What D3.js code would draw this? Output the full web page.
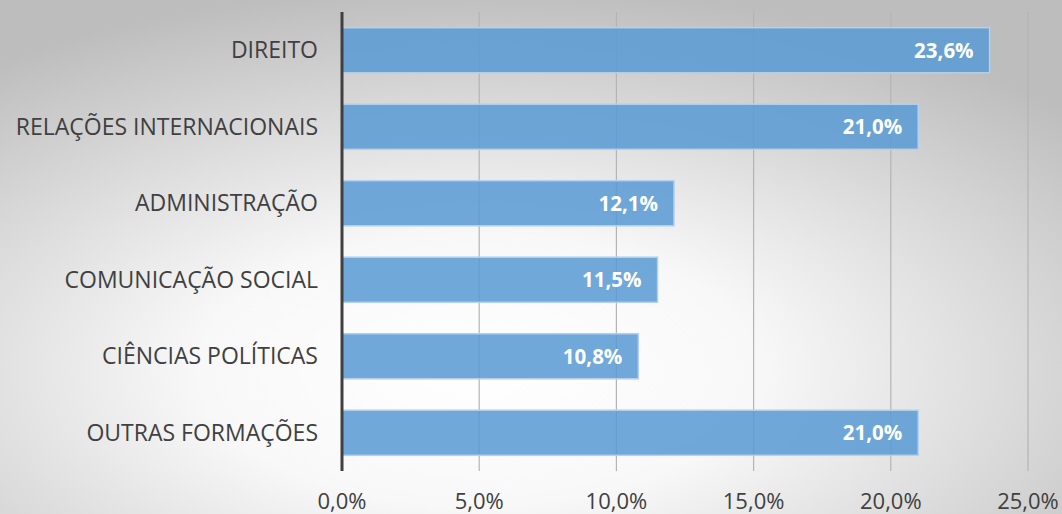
<!DOCTYPE html>
<html lang="pt-BR">
<head>
<meta charset="utf-8">
<title>Formação</title>
<script src="https://d3js.org/d3.v7.min.js"></script>
<style>
  body { margin: 0; }
  #grafico { display: block; width: 1062px; height: 514px; }
  .categoria { font-family: 'Open Sans', sans-serif; font-size: 23px; fill: #404040; text-anchor: end; }
  .valor { font-family: 'Open Sans', sans-serif; font-size: 20.5px; font-weight: bold; fill: #fff; text-anchor: end; }
  .tick-rotulo { font-family: 'Open Sans', sans-serif; font-size: 22px; fill: #404040; text-anchor: middle; }
</style>
</head>
<body>
<svg id="grafico"></svg>
<script>
const categorias = ['DIREITO', 'RELAÇÕES INTERNACIONAIS', 'ADMINISTRAÇÃO', 'COMUNICAÇÃO SOCIAL', 'CIÊNCIAS POLÍTICAS', 'OUTRAS FORMAÇÕES'];
const valores = [23.6, 21.0, 12.1, 11.5, 10.8, 21.0];
const ticks = [0, 5, 10, 15, 20, 25];

const fmt = v => d3.format('.1f')(v).replace('.', ',') + '%';

const svg = d3.select('#grafico');
const largura = 1062, altura = 514;

// fundo com degradê radial
const defs = svg.append('defs');
const grad = defs.append('radialGradient').attr('id', 'fundo')
  .attr('cx', '45%').attr('cy', '72%').attr('r', '75%');
grad.append('stop').attr('offset', '0%').attr('stop-color', '#ffffff');
grad.append('stop').attr('offset', '35%').attr('stop-color', '#f8f8f8');
grad.append('stop').attr('offset', '100%').attr('stop-color', '#bdbdbd');
svg.append('rect').attr('width', largura).attr('height', altura).attr('fill', 'url(#fundo)');

const fnX = d3.scaleLinear().domain([0, 25]).range([342, 1028]);
const fnY = d3.scaleBand().domain(categorias).range([12, 471]).paddingInner(0.41).paddingOuter(0.205);

// linhas de grade
svg.selectAll('.grade')
  .data(ticks.slice(1))
  .enter()
  .append('line')
  .attr('x1', d => fnX(d)).attr('x2', d => fnX(d))
  .attr('y1', 12).attr('y2', 471)
  .attr('stroke', '#b4b4b4').attr('stroke-width', 1.2);

// barras
svg.selectAll('.barra')
  .data(valores)
  .enter()
  .append('rect')
  .attr('x', fnX(0))
  .attr('y', (d, i) => fnY(categorias[i]))
  .attr('width', d => fnX(d) - fnX(0))
  .attr('height', fnY.bandwidth())
  .attr('fill', '#5b9bd5').attr('fill-opacity', 0.87)
  .attr('stroke', '#b5d0ec').attr('stroke-width', 1.5);

// eixo vertical
svg.append('line')
  .attr('x1', fnX(0)).attr('x2', fnX(0))
  .attr('y1', 12).attr('y2', 471)
  .attr('stroke', '#404040').attr('stroke-width', 3);

// rótulos das categorias
svg.selectAll('.categoria')
  .data(categorias)
  .enter()
  .append('text')
  .classed('categoria', true)
  .attr('x', 318)
  .attr('y', d => fnY(d) + fnY.bandwidth() / 2)
  .attr('dy', '0.35em')
  .text(d => d);

// rótulos de valor
svg.selectAll('.valor')
  .data(valores)
  .enter()
  .append('text')
  .classed('valor', true)
  .attr('x', d => fnX(d) - 16)
  .attr('y', (d, i) => fnY(categorias[i]) + fnY.bandwidth() / 2)
  .attr('dy', '0.36em')
  .text(d => fmt(d));

// rótulos do eixo x
svg.selectAll('.tick-rotulo')
  .data(ticks)
  .enter()
  .append('text')
  .classed('tick-rotulo', true)
  .attr('x', d => fnX(d))
  .attr('y', 509)
  .text(d => fmt(d));
</script>
</body>
</html>
